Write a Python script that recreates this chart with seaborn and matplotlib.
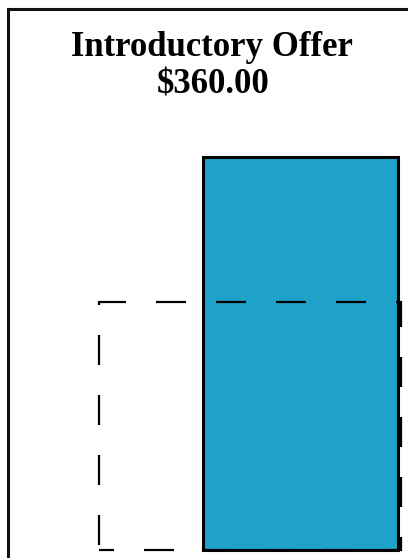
import matplotlib
matplotlib.use("Agg")
import matplotlib.pyplot as plt
import matplotlib.patches as mpatches
import seaborn as sns
import pandas as pd

# data
offer_label = "Introductory Offer"
offer_price = 360.00
regular_price = 227.00
bar_color = "#1fa2c9"

sns.set_style("white")
plt.rcParams["font.family"] = ["Liberation Serif", "DejaVu Serif"]
plt.rcParams["lines.scale_dashes"] = False

fig = plt.figure(figsize=(4.08, 5.58), dpi=100)

# axes: baseline at pixel y=550, price level at pixel y=157
ax = fig.add_axes([0, 8 / 558, 1, 393 / 558])

df = pd.DataFrame({"offer": [offer_label], "price": [offer_price]})
sns.barplot(data=df, x="offer", y="price", color=bar_color, saturation=1,
            width=1, edgecolor="black", linewidth=2.2, ax=ax, zorder=2)

# dashed outline for the comparison price
unit = 195.0
left = -0.5 - (203 - 99) / unit
right = 0.5 + 3 / unit
ax.bar([left], [regular_price], width=right - left, align="edge", fill=False,
       edgecolor="black", linewidth=1.6, linestyle=(10.8, (21.6, 21.6)),
       zorder=3, clip_on=False)

ax.set_xlim(-0.5 - 203 / unit, 0.5 + 10 / unit)
ax.set_ylim(0, offer_price)
ax.axis("off")
for p in ax.patches:
    p.set_clip_on(False)

# title, two lines
fig.text(212 / 408, 1 - 56 / 558, offer_label, ha="center", va="baseline",
         fontsize=25, fontweight="bold", color="black")
fig.text(213 / 408, 1 - 94 / 558, f"${offer_price:,.2f}", ha="center",
         va="baseline", fontsize=25, fontweight="bold", color="black")

# frame around the card (cropped on right and bottom)
frame = mpatches.Rectangle((7.5 / 408, -0.1), 1.2, 1.1 - 9.5 / 558,
                           transform=fig.transFigure, fill=False,
                           edgecolor="#111111", linewidth=2.2)
fig.patches.append(frame)

fig.savefig("out.png", dpi=100)
